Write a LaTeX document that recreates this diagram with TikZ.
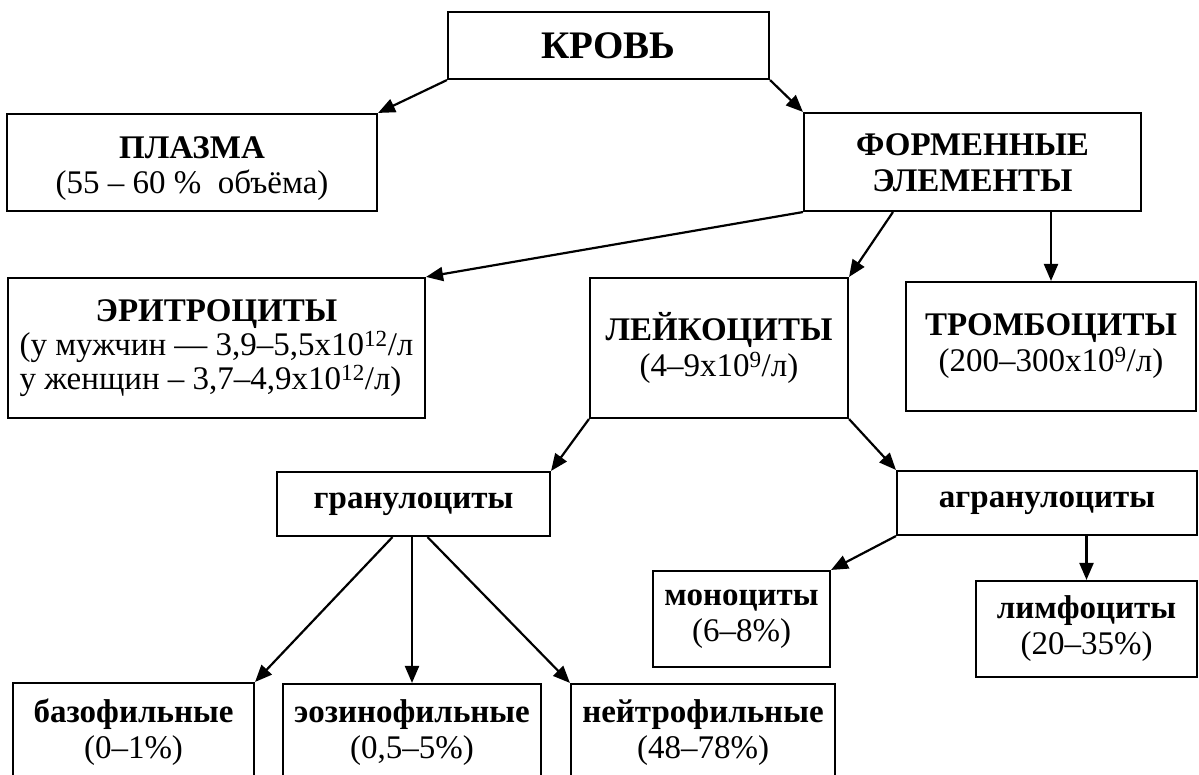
\documentclass[tikz,border=0pt]{standalone}
\usepackage{fontspec}
\setmainfont{Liberation Serif}
\usetikzlibrary{arrows.meta,calc}
\newcommand{\lowertext}[2]{\raisebox{-#1}[\height][\depth]{#2}}
\begin{document}
\begin{tikzpicture}[x=1pt,y=-1pt,
  box/.style={draw, line width=2.1pt, inner sep=0pt, align=center,
    font=\fontsize{33}{36}\selectfont},
  boldbox/.style={box, font=\fontsize{33}{36}\selectfont\bfseries},
  arr/.style={line width=2.2pt, -{Triangle[length=17pt,width=14pt]}}
]
\useasboundingbox (0,0) rectangle (1199,775);
\clip (0,0) rectangle (1199,775);
\fill[white] (0,0) rectangle (1199,775);

\node[box, minimum width=321pt, minimum height=67pt, font=\fontsize{39}{42}\selectfont\bfseries] (krov) at (608.5,45.5) {КРОВЬ};
\node[box, minimum width=370pt, minimum height=97pt] (plazma) at (192,162.5) {\lowertext{6pt}{\begin{tabular}{@{}c@{}}\textbf{ПЛАЗМА}\\[-1pt](55 – 60 \%\ \ объёма)\end{tabular}}};
\node[boldbox, minimum width=337pt, minimum height=98pt] (form) at (972.5,162) {\lowertext{4pt}{\begin{tabular}{@{}c@{}}ФОРМЕННЫЕ\\ЭЛЕМЕНТЫ\end{tabular}}};

\node[box, minimum width=417pt, minimum height=140pt] (eritr) at (216.5,348) {%
  \begin{tabular}{@{}l@{}}\multicolumn{1}{@{}c@{}}{\textbf{ЭРИТРОЦИТЫ}}\\[-2pt]
  (у мужчин — 3,9–5,5x10\textsuperscript{12}/л\\[-2pt]
  у женщин – 3,7–4,9x10\textsuperscript{12}/л)\end{tabular}};
\node[box, minimum width=258pt, minimum height=140pt] (leyk) at (719,348) {\textbf{ЛЕЙКОЦИТЫ}\\(4–9x10\textsuperscript{9}/л)};
\node[box, minimum width=290pt, minimum height=129pt] (tromb) at (1051,346.5) {\textbf{ТРОМБОЦИТЫ}\\(200–300x10\textsuperscript{9}/л)};

\node[boldbox, minimum width=273pt, minimum height=64pt] (gran) at (413.5,504) {гранулоциты};
\node[boldbox, minimum width=300pt, minimum height=64pt] (agran) at (1047,503) {агранулоциты};

\node[box, minimum width=177pt, minimum height=96pt] (mono) at (741.5,619) {\textbf{моноциты}\\(6–8\%)};
\node[box, minimum width=221pt, minimum height=96pt] (limf) at (1086.5,629) {\textbf{лимфоциты}\\(20–35\%)};

\node[box, minimum width=241pt, minimum height=99pt] (baz) at (133.5,732.5) {\textbf{базофильные}\\(0–1\%)};
\node[box, minimum width=258pt, minimum height=98pt] (eoz) at (412,733) {\textbf{эозинофильные}\\(0,5–5\%)};
\node[box, minimum width=264pt, minimum height=98pt] (neyt) at (703,733) {\textbf{нейтрофильные}\\(48–78\%)};

\draw[arr] (krov.south west) -- (plazma.north east);
\draw[arr] (krov.south east) -- (form.north west);
\draw[arr] (form.south west) -- (eritr.north east);
\draw[arr] ([xshift=90pt]form.south west) -- (leyk.north east);
\draw[arr] (form.south -| tromb.north) -- (tromb.north);
\draw[arr] (leyk.south west) -- (gran.north east);
\draw[arr] (leyk.south east) -- (agran.north west);
\draw[arr] ([xshift=-21pt]gran.south) -- (baz.north east);
\draw[arr] (gran.south -| eoz.north) -- (eoz.north);
\draw[arr] ([xshift=14pt]gran.south) -- (neyt.north west);
\draw[arr] (agran.south west) -- (mono.north east);
\draw[arr] (agran.south -| limf.north) -- (limf.north);
\end{tikzpicture}
\end{document}
